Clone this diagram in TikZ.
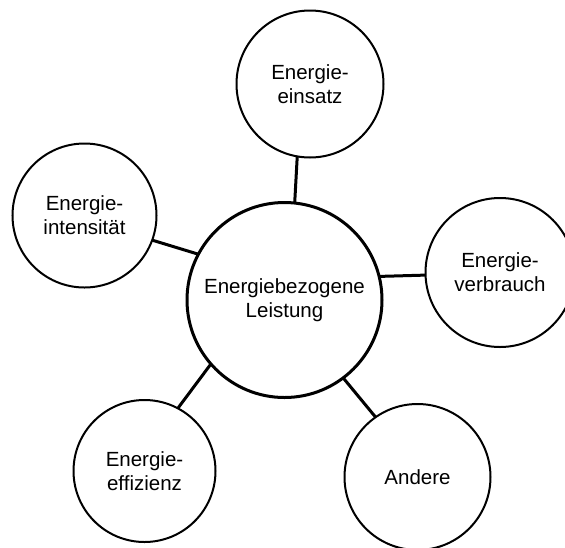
\documentclass[tikz,border=0pt]{standalone}
\usepackage{fontspec}
\setmainfont{Liberation Sans}
\begin{document}
\begin{tikzpicture}[x=1pt,y=-1pt,
  hub/.style={circle,draw,line width=3pt,inner sep=0pt,outer sep=0pt,align=center,
    font=\fontsize{20.5}{24}\selectfont},
  leaf/.style={circle,draw,line width=2pt,inner sep=0pt,outer sep=0pt,align=center,
    font=\fontsize{20.5}{24}\selectfont},
  link/.style={line width=3pt}]
\useasboundingbox (0,0) rectangle (565,547);
\node[hub,minimum size=195pt] (c) at (284.5,300) {Energiebezogene\\Leistung};
\node[leaf,minimum size=147pt] (t) at (310,84) {Energie-\\einsatz};
\node[leaf,minimum size=144pt] (l) at (84.5,215.5) {Energie-\\intensität};
\node[leaf,minimum size=149pt] (r) at (500,272.5) {Energie-\\verbrauch};
\node[leaf,minimum size=142pt] (bl) at (144.5,471) {Energie-\\effizienz};
\node[leaf,minimum size=146pt] (br) at (417.5,477) {Andere};
\draw[link] (c.84.5) -- (t.260.8);
\draw[link] (c.152.8) -- (l.-20.6);
\draw[link] (c.14.6) -- (r.182.3);
\draw[link] (c.221.6) -- (bl.62.4);
\draw[link] (c.-53.8) -- (br.125.2);
\end{tikzpicture}
\end{document}
